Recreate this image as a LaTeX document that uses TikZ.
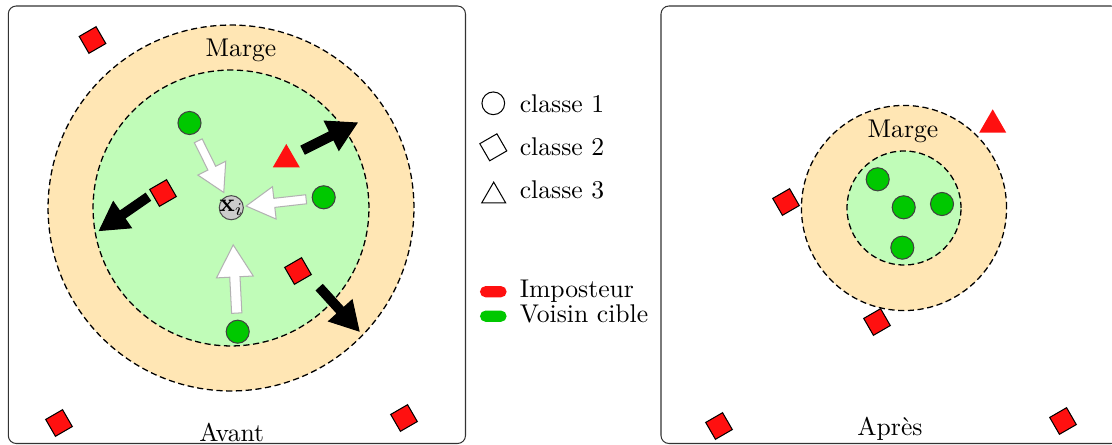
\documentclass[tikz,border=0pt]{standalone}
\usepackage{amsmath,amssymb}
\usepackage{xcolor}
\usepackage{tikz}
\usetikzlibrary{shapes.geometric, calc}

\definecolor{beige}{RGB}{255,230,180}
\definecolor{vertclair}{RGB}{192,252,184}
\definecolor{vert}{RGB}{0,200,0}
\definecolor{rouge}{RGB}{255,16,16}

% big block arrow from #2 to #3, drawn with style #1
\newcommand{\grossefleche}[3]{%
  \coordinate (gf-s) at (#2);
  \coordinate (gf-e) at (#3);
  \coordinate (gf-h) at ($(gf-s)!0.53!(gf-e)$);
  \filldraw[#1] ($(gf-s)!0.075!90:(gf-e)$) -- ($(gf-h)!0.16!90:(gf-e)$)
    -- ($(gf-h)!0.574!90:(gf-e)$) -- (gf-e)
    -- ($(gf-h)!0.574!-90:(gf-e)$) -- ($(gf-h)!0.16!-90:(gf-e)$)
    -- ($(gf-s)!0.075!-90:(gf-e)$) -- cycle;%
}

\begin{document}
\begin{tikzpicture}[
    x=0.39pt, y=-0.39pt,
    panneau/.style={draw=black!80, rounded corners=3.1pt},
    zone/.style={circle, draw, dash pattern=on 2.4pt off 1.4pt, line width=0.5pt, inner sep=0pt},
    cible/.style={circle, draw=black!75, fill=vert, minimum size=9pt, inner sep=0pt},
    imposteur/.style={rectangle, draw=black, fill=rouge, minimum size=7.6pt, inner sep=0pt, rotate=30},
    triangle/.style={regular polygon, regular polygon sides=3, inner sep=0pt, minimum size=12.2pt},
    pastille/.style={rectangle, rounded corners=2.2pt, minimum width=10.4pt, minimum height=4.4pt, inner sep=0pt},
    legende/.style={anchor=base west, inner sep=0pt},
    blanche/.style={draw=black!30, fill=white, line width=0.4pt},
    noire/.style={draw=black, fill=black, line width=0.4pt}
]
\useasboundingbox (0,0) rectangle (1112,445);

% Panels
\draw[panneau] (8.3,6) rectangle (465.5,443.5);
\draw[panneau] (661,6) rectangle (1119,443.5);

% Before: margin zones
\node[zone, fill=beige, minimum size=142.7pt] (ext1) at (231,208) {};
\node[zone, fill=vertclair, minimum size=107.6pt] (int1) at (231,208) {};
\node (lmarge1) at (241,50) {Marge};
\node (avant) at (231.7,432) {Avant};

% Before: points
\node[circle, draw=black!70, fill=black!20, minimum size=9.4pt, inner sep=0pt,
      label={[inner sep=0pt]center:$\mathbf{x}_i$}] (xi) at (231.3,207.7) {};
\node[cible] (g1) at (189.5,123) {};
\node[cible] (g2) at (323.7,197.3) {};
\node[cible] (g3) at (237.7,331.7) {};
\node[triangle, fill=rouge] (t1) at (286.3,159.6) {};
\node[imposteur] (i1) at (92.5,40) {};
\node[imposteur] (i2) at (163,193) {};
\node[imposteur] (i3) at (298,271) {};
\node[imposteur] (i4) at (59,423) {};
\node[imposteur] (i5) at (404,418) {};

% Pull of the target neighbours
\grossefleche{blanche}{$(g1)!0.21!(xi)$}{$(g1)!0.82!(xi)$}
\grossefleche{blanche}{$(g2)!0.19!(xi)$}{$(g2)!0.84!(xi)$}
\grossefleche{blanche}{$(g3)!0.15!(xi)$}{$(g3)!0.70!(xi)$}

% Push of the impostors
\coordinate (p1a) at (303,150);
\coordinate (p1b) at (357,123);
\coordinate (p2a) at (148,197);
\coordinate (p2b) at (99.5,230.5);
\coordinate (p3a) at (319.5,287.5);
\coordinate (p3b) at (359,331);
\grossefleche{noire}{p1a}{p1b}
\grossefleche{noire}{p2a}{p2b}
\grossefleche{noire}{p3a}{p3b}

% Legend
\node[circle, draw, minimum size=8.85pt, inner sep=0pt] (c1) at (493.3,103.3) {};
\node[rectangle, draw, minimum size=7.7pt, inner sep=0pt, rotate=30] (c2) at (493.3,147.3) {};
\node[triangle, draw, minimum size=10.8pt] (c3) at (493.7,196) {};
\node[legende] (lc1) at (519.3,112.3) {classe 1};
\node[legende] (lc2) at (519.3,156) {classe 2};
\node[legende] (lc3) at (519.3,199) {classe 3};
\node[pastille, fill=rouge] (pimp) at (493.3,291.7) {};
\node[pastille, fill=vert] (pvois) at (493.3,316.2) {};
\node[legende] (limp) at (519.3,297.3) {Imposteur};
\node[legende] (lvois) at (519.3,322.3) {Voisin cible};

% After: margin zones
\node[zone, fill=beige, minimum size=80pt] (ext2) at (904,208) {};
\node[zone, fill=vertclair, minimum size=44.5pt] (int2) at (904,208) {};
\node (lmarge2) at (903,131) {Marge};
\node (apres) at (890,429) {Après};

% After: points
\node[cible] (g4) at (877.7,179.3) {};
\node[cible] (g5) at (903.7,207.3) {};
\node[cible] (g6) at (942,204) {};
\node[cible] (g7) at (902.3,247.7) {};
\node[triangle, fill=rouge] (t2) at (992.7,124.9) {};
\node[imposteur] (i6) at (786,202) {};
\node[imposteur] (i7) at (877,322) {};
\node[imposteur] (i8) at (719,426) {};
\node[imposteur] (i9) at (1063,421) {};
\end{tikzpicture}
\end{document}
